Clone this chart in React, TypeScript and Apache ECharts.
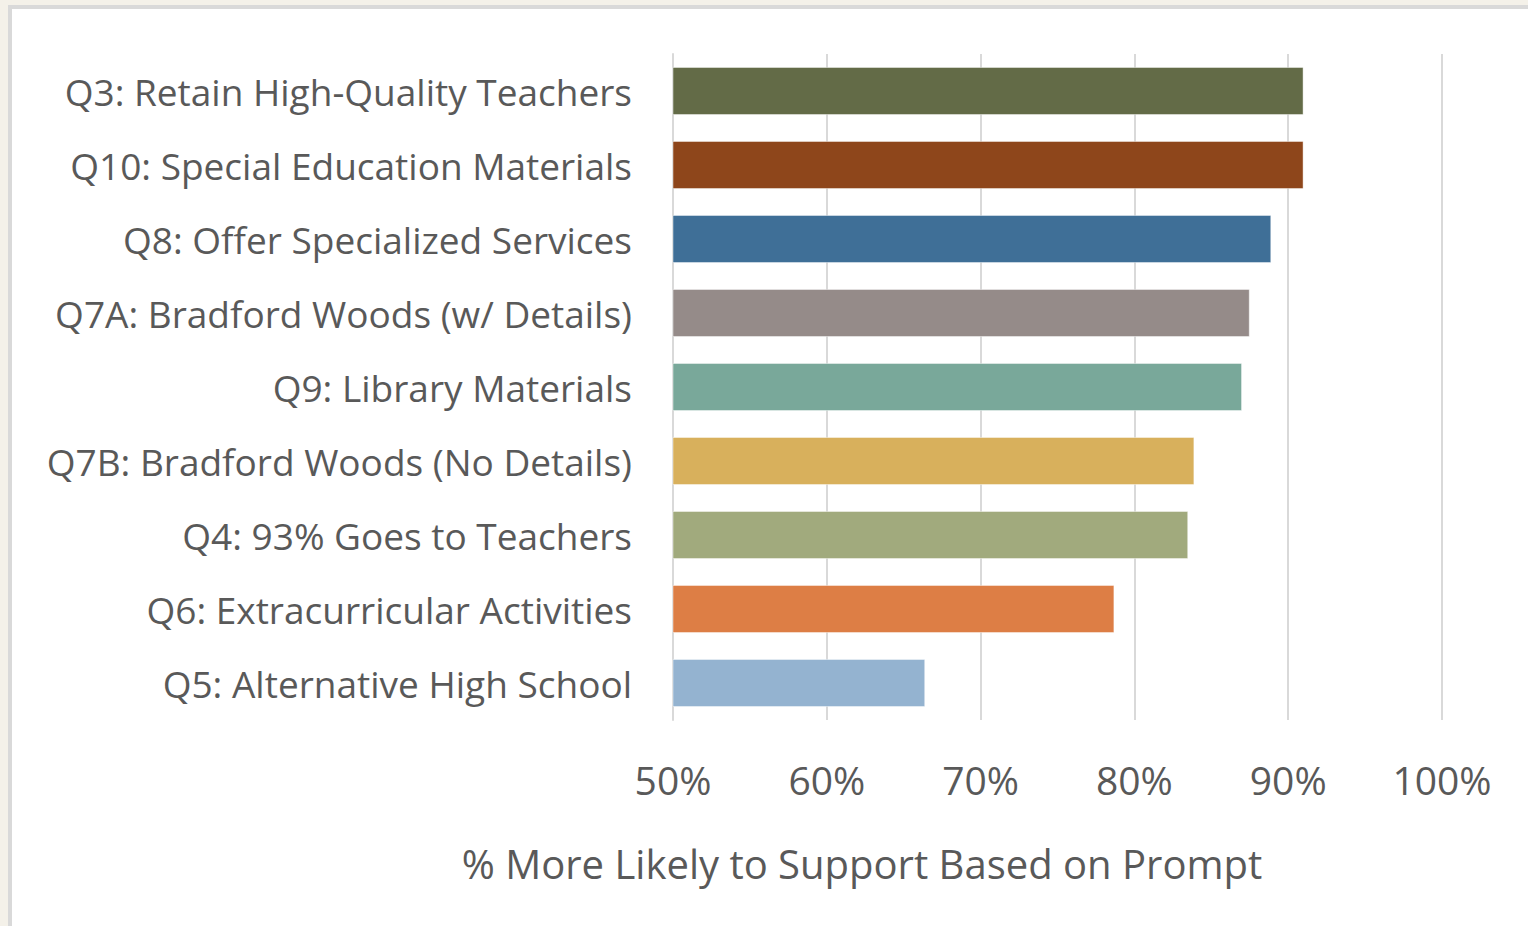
import React, { useEffect, useRef } from "react";
import * as echarts from "echarts";

const categories = [
  "Q3: Retain High-Quality Teachers",
  "Q10: Special Education Materials",
  "Q8: Offer Specialized Services",
  "Q7A: Bradford Woods (w/ Details)",
  "Q9: Library Materials",
  "Q7B: Bradford Woods (No Details)",
  "Q4: 93% Goes to Teachers",
  "Q6: Extracurricular Activities",
  "Q5: Alternative High School",
];
const values = [91.0, 91.0, 88.9, 87.5, 87.0, 83.9, 83.5, 78.7, 66.4];
const colors = [
  "#636b47",
  "#8e461b",
  "#3f6f97",
  "#958b89",
  "#79a89a",
  "#d8b05c",
  "#a1aa7d",
  "#dd7e45",
  "#94b3d0",
];
const axisTitle = "% More Likely to Support Based on Prompt";

const FONT = "'Open Sans', Lato, sans-serif";
const TXT = "#595959";

export default function App() {
  const ref = useRef<HTMLDivElement>(null);
  useEffect(() => {
    if (!ref.current) return;
    const chart = echarts.init(ref.current, undefined, { renderer: "svg" });
    chart.setOption({
      animation: false,
      grid: { left: 673, right: 86, top: 54, bottom: 206, containLabel: false },
      xAxis: {
        type: "value",
        min: 50,
        max: 100,
        interval: 10,
        axisLine: { show: false },
        axisTick: { show: false },
        splitLine: { show: true, lineStyle: { color: "#d9d9d9", width: 2 } },
        axisLabel: {
          formatter: "{value}%",
          color: TXT,
          fontFamily: FONT,
          fontSize: 39,
          margin: 40,
        },
      },
      yAxis: {
        type: "category",
        data: categories,
        inverse: true,
        axisLine: { show: true, lineStyle: { color: "#d9d9d9", width: 2 } },
        axisTick: { show: false },
        axisLabel: {
          color: TXT,
          fontFamily: FONT,
          fontSize: 37,
          margin: 41,
        },
      },
      series: [
        {
          type: "bar",
          data: values.map((v, i) => ({
            value: v,
            itemStyle: { color: colors[i] },
          })),
          barCategoryGap: "35%",
          itemStyle: { borderColor: "rgba(255,255,255,0.45)", borderWidth: 1 },
        },
      ],
      graphic: [
        {
          type: "text",
          x: 862,
          y: 863,
          style: {
            text: axisTitle,
            fill: TXT,
            font: `40px ${FONT}`,
            align: "center",
            verticalAlign: "middle",
          },
        },
      ],
    });
    return () => chart.dispose();
  }, []);

  return (
    <div
      style={{
        position: "absolute",
        left: 0,
        top: 0,
        width: 1528,
        height: 926,
        background: "#f4f1e9",
        overflow: "hidden",
      }}
    >
      <div
        style={{
          position: "absolute",
          left: 8,
          top: 5,
          width: 1528,
          height: 926,
          background: "#ffffff",
          borderLeft: "4px solid #d9d9d9",
          borderTop: "4px solid #d9d9d9",
        }}
      />
      <div
        ref={ref}
        style={{ position: "absolute", left: 0, top: 0, width: 1528, height: 926 }}
      />
    </div>
  );
}
